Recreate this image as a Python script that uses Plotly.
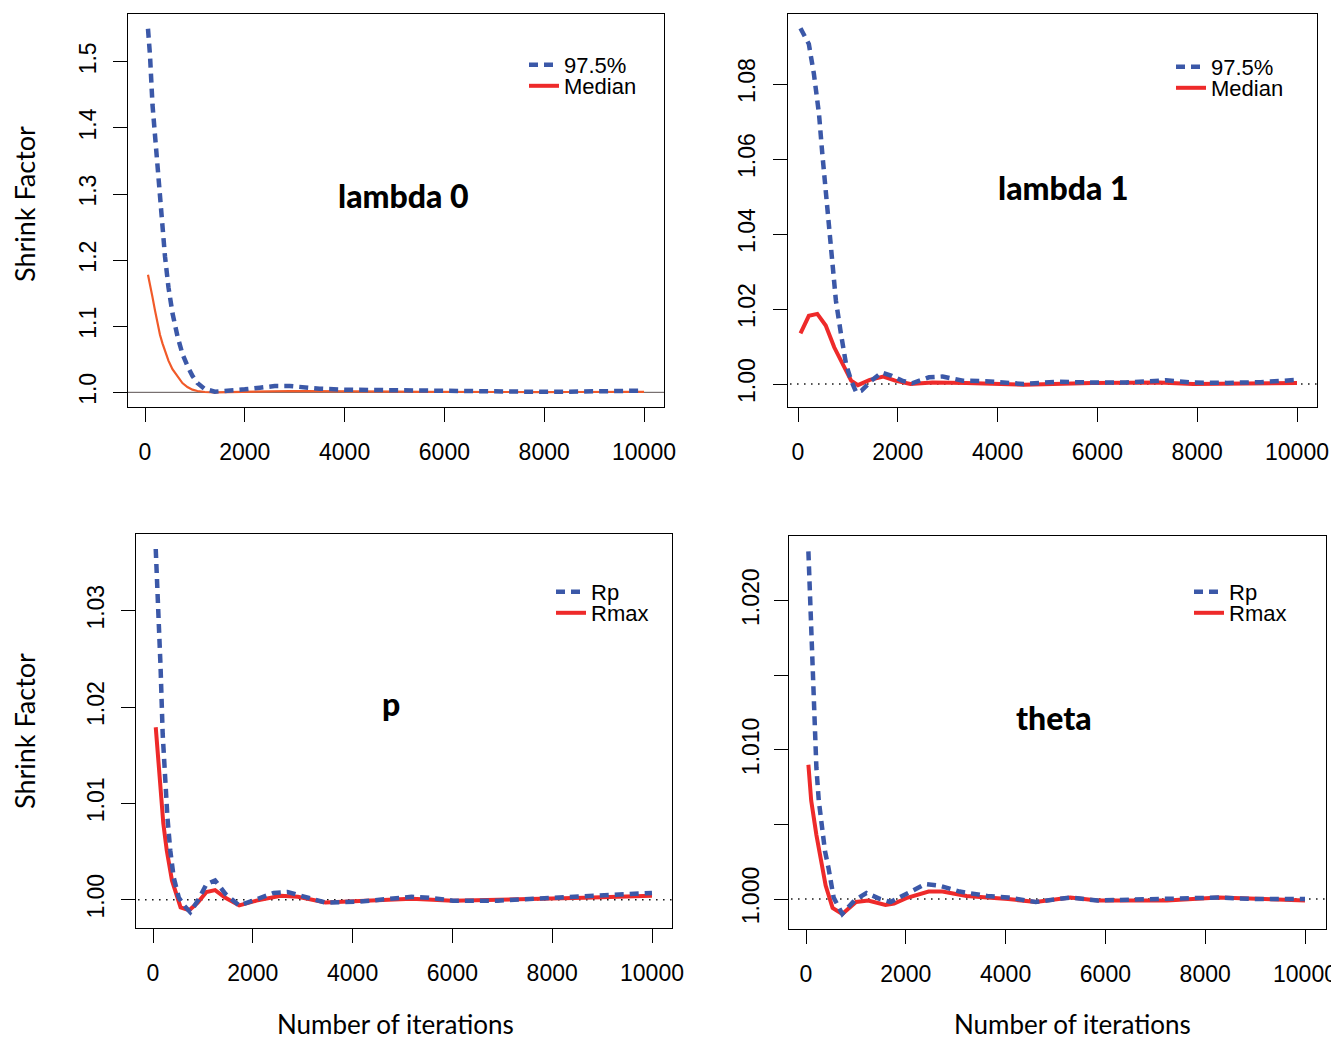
import plotly.graph_objects as go

# ---------------- data ----------------
# Panel 1: lambda 0
L0_x = [60, 100, 150, 200, 250, 300, 350, 400, 470, 550, 650, 750, 850, 950, 1050, 1200, 1400, 1700, 2000,
        2300, 2600, 2900, 3200, 3500, 4000, 4500, 5000, 5500, 6000, 6500, 7000, 7500, 8000, 8500, 9000, 9500, 10000]
L0_q975 = [1.550, 1.510, 1.435, 1.390, 1.340, 1.287, 1.243, 1.206, 1.159, 1.120, 1.085, 1.058, 1.040, 1.025, 1.014,
           1.005, 1.001, 1.002, 1.0045, 1.007, 1.0095, 1.0095, 1.0075, 1.0055, 1.004, 1.0035, 1.0035, 1.0035, 1.0015,
           1.001, 1.0005, 1.0005, 1.0007, 1.001, 1.0015, 1.002, 1.0025]
L0_med = [1.178, 1.165, 1.144, 1.124, 1.103, 1.087, 1.074, 1.062, 1.048, 1.035, 1.024, 1.014, 1.008, 1.004, 1.002,
          1.0005, 1.0, 1.0005, 1.001, 1.0015, 1.002, 1.002, 1.0018, 1.0015, 1.001, 1.001, 1.001, 1.0008, 1.0005,
          1.0003, 1.0003, 1.0003, 1.0004, 1.0005, 1.0006, 1.0007, 1.0008]

# Panel 2: lambda 1
L1_x_q = [50, 217, 319, 421, 488, 556, 624, 692, 760, 862, 963, 1065, 1167, 1269, 1472, 1676, 1879, 2083, 2286,
          2626, 2897, 3304, 3847, 4525, 5204, 5882, 6560, 7374, 7917, 8596, 9274, 10000]
L1_q975 = [1.0949, 1.0907, 1.0827, 1.0720, 1.0613, 1.0516, 1.0418, 1.0311, 1.0222, 1.0133, 1.0053, 1.0009, 0.9978,
           0.9982, 1.0009, 1.0031, 1.0022, 1.0009, 1.0002, 1.0018, 1.0020, 1.0009, 1.0007, 1.0000, 1.0006, 1.0004,
           1.0004, 1.0010, 1.0004, 1.0003, 1.0005, 1.0011]
L1_x_m = [50, 217, 387, 556, 726, 896, 1065, 1201, 1438, 1710, 1947, 2252, 2693, 3372, 4525, 5882, 7239, 7917, 10000]
L1_med = [1.0135, 1.0182, 1.0187, 1.0156, 1.0098, 1.0053, 1.0009, 0.9997, 1.0011, 1.0020, 1.0009, 1.0000, 1.0004,
          1.0003, 0.9998, 1.0003, 1.0004, 1.0000, 1.0003]

# Panel 3: p
P_x_q = [55, 104, 152, 194, 242, 290, 346, 415, 518, 622, 746, 898, 1071, 1244, 1451, 1728, 2004, 2419, 2695, 2972,
         3455, 4146, 4838, 5183, 5529, 6012, 6911, 7947, 8638, 9330, 10000]
P_rp = [1.0364, 1.0310, 1.0241, 1.0172, 1.0120, 1.0085, 1.0051, 1.0023, 1.0002, 0.9994, 0.9987, 0.9999, 1.0016,
        1.0020, 1.0006, 0.9994, 0.9999, 1.0007, 1.0008, 1.0004, 0.9997, 0.9998, 1.0001, 1.0003, 1.0002, 0.9999,
        0.9999, 1.0002, 1.0003, 1.0005, 1.0007]
P_x_m = [55, 138, 207, 276, 380, 553, 726, 898, 1071, 1244, 1451, 1728, 2073, 2557, 2903, 3455, 4492, 5183, 6012,
         7256, 8638, 10000]
P_rmax = [1.0179, 1.0120, 1.0079, 1.0051, 1.0020, 0.9992, 0.9989, 0.9997, 1.0008, 1.0010, 1.0002, 0.9994, 0.9999,
          1.0004, 1.0003, 0.9997, 0.9999, 1.0001, 0.9999, 1.0000, 1.0002, 1.0004]

# Panel 4: theta
T_x_q = [48, 83, 118, 159, 208, 256, 311, 381, 450, 554, 727, 969, 1211, 1488, 1696, 1972, 2388, 2664, 3080, 3633,
         4048, 4602, 5294, 5848, 7232, 8270, 8962, 10000]
T_rp = [1.0233, 1.0200, 1.0155, 1.0122, 1.0088, 1.0066, 1.0048, 1.0032, 1.0021, 1.0001, 0.9990, 0.9999, 1.0004,
        1.0000, 0.9998, 1.0003, 1.0010, 1.0009, 1.0005, 1.0002, 1.0001, 0.9998, 1.0001, 0.9999, 1.0000, 1.0001,
        1.0000, 1.0000]
T_x_m = [48, 104, 208, 311, 394, 533, 727, 1003, 1246, 1592, 1765, 2042, 2457, 2734, 3218, 4048, 4602, 5294, 5848,
         7232, 8270, 10000]
T_rmax = [1.0090, 1.0066, 1.0043, 1.0025, 1.0009, 0.9994, 0.9990, 0.9998, 0.9999, 0.9996, 0.9997, 1.0001, 1.0005,
          1.0005, 1.0002, 1.0000, 0.9998, 1.0001, 0.9999, 0.9999, 1.0001, 0.9999]

panel_titles = ["lambda 0", "lambda 1", "p", "theta"]
x_ticks = [0, 2000, 4000, 6000, 8000, 10000]
y_ticks_1 = [1.0, 1.1, 1.2, 1.3, 1.4, 1.5]
y_ticks_2 = [1.00, 1.02, 1.04, 1.06, 1.08]
y_ticks_3 = [1.00, 1.01, 1.02, 1.03]
y_ticks_4 = [1.000, 1.005, 1.010, 1.015, 1.020]
y_text_4 = ["1.000", "", "1.010", "", "1.020"]

# ---------------- style ----------------
OFF = 8                      # page margin of the html body
W, H = 1339 - OFF, 1043 - 2 * OFF
BLUE = "#3B58A8"
RED = "#EE2A2A"
ORANGE = "#F15A29"
TICKFONT = dict(family="Liberation Sans, Arial, sans-serif", size=23, color="black")
LEGFONT = dict(family="Liberation Sans, Arial, sans-serif", size=22, color="black")
LABFONT = dict(family="Lato, Open Sans, sans-serif", size=27, color="black")
XLABFONT = dict(family="Lato, Open Sans, sans-serif", size=26, color="black")
TITLEFONT = dict(family="Lato, Open Sans, sans-serif", size=32, color="black", weight=900)
DASH = "9px,6px"


def px_x(p):
    return (p - OFF) / W


def px_y(p):
    return 1 - (p - OFF) / H


# box positions in the picture (left, right, top, bottom)
boxes = [(128, 664, 14, 407), (788, 1317, 14, 407), (136, 672, 534, 928), (789, 1326, 536, 929)]
xzero = [145, 798, 153, 806]
xten = [644, 1297, 652, 1305]
yranges = [(0.9778, 1.5723), (0.99387, 1.0987), (0.99706, 1.03796), (0.99799, 1.02433)]
ystand = [8, 9, 8, 6]

fig = go.Figure()

series = [
    (L0_x, L0_q975, L0_x, L0_med, "97.5%", "Median", ORANGE, 2.2),
    (L1_x_q, L1_q975, L1_x_m, L1_med, "97.5%", "Median", RED, 4),
    (P_x_q, P_rp, P_x_m, P_rmax, "Rp", "Rmax", RED, 4),
    (T_x_q, T_rp, T_x_m, T_rmax, "Rp", "Rmax", RED, 4),
]

# legend text start x and row centers
legend_rows = [(564, 65, 86), (1211, 67, 88), (591, 592, 613), (1229, 592, 613)]

layout = {}
for i in range(4):
    n = i + 1
    sfx = "" if n == 1 else str(n)
    xq, yq, xm, ym, nq, nm, mcol, mw = series[i]
    leg_q = "legend" if i == 0 else f"legend{2 * i + 1}"
    leg_m = f"legend{2 * i + 2}"
    fig.add_trace(go.Scatter(
        x=[-1000, 11000], y=[1, 1], mode="lines", xaxis="x" + sfx, yaxis="y" + sfx,
        line=dict(color="#5a5050" if i == 0 else "black", width=1 if i == 0 else 1.4,
                  dash="solid" if i == 0 else "1.4px,5.6px"),
        showlegend=False, hoverinfo="skip"))
    if i == 0:
        fig.add_trace(go.Scatter(
            x=xm, y=ym, mode="lines", name=nm, xaxis="x" + sfx, yaxis="y" + sfx,
            line=dict(color=mcol, width=mw), showlegend=False))
        fig.add_trace(go.Scatter(
            x=[None], y=[None], mode="lines", name=nm, xaxis="x" + sfx, yaxis="y" + sfx,
            line=dict(color=RED, width=4), legend=leg_m, hoverinfo="skip"))
    else:
        fig.add_trace(go.Scatter(
            x=xm, y=ym, mode="lines", name=nm, xaxis="x" + sfx, yaxis="y" + sfx,
            line=dict(color=mcol, width=mw), legend=leg_m))
    fig.add_trace(go.Scatter(
        x=xq, y=yq, mode="lines", name=nq, xaxis="x" + sfx, yaxis="y" + sfx,
        line=dict(color=BLUE, width=4.5, dash=DASH), legend=leg_q))

    l, r, t, b = boxes[i]
    ppk = (xten[i] - xzero[i]) / 10000.0
    xr = [(l - xzero[i]) / ppk, (r - xzero[i]) / ppk]
    layout["xaxis" + sfx] = dict(
        domain=[px_x(l), px_x(r)], range=xr, anchor="y" + sfx, automargin=False,
        tickvals=x_ticks, ticktext=[str(v) for v in x_ticks], ticks="outside", ticklen=14,
        tickcolor="black", tickwidth=1, tickfont=TICKFONT, ticklabelstandoff=10,
        showline=True, mirror=True, linecolor="black", linewidth=1,
        showgrid=False, zeroline=False)
    yt = [y_ticks_1, y_ticks_2, y_ticks_3, y_ticks_4][i]
    ytxt = [["%.1f" % v for v in y_ticks_1], ["%.2f" % v for v in y_ticks_2],
            ["%.2f" % v for v in y_ticks_3], y_text_4][i]
    layout["yaxis" + sfx] = dict(
        domain=[px_y(b), px_y(t)], range=list(yranges[i]), anchor="x" + sfx, automargin=False,
        tickvals=yt, ticktext=ytxt, ticks="outside", ticklen=14, tickangle=-90,
        tickcolor="black", tickwidth=1, tickfont=TICKFONT, ticklabelstandoff=ystand[i],
        showline=True, mirror=True, linecolor="black", linewidth=1,
        showgrid=False, zeroline=False)
    tx0, ry1, ry2 = legend_rows[i]
    for leg, ly in ((leg_q, ry1), (leg_m, ry2)):
        layout[leg] = dict(x=px_x(tx0 - 40), y=px_y(ly), xanchor="left", yanchor="middle",
                           font=LEGFONT, bgcolor="rgba(0,0,0,0)", borderwidth=0)

title_pos = [(403, 196), (1063, 188), (391, 703), (1054, 717)]
annotations = []
for (tx, ty), txt in zip(title_pos, panel_titles):
    annotations.append(dict(text=txt, x=px_x(tx), y=px_y(ty), xref="paper", yref="paper",
                            xanchor="center", yanchor="middle", showarrow=False, font=TITLEFONT))
for ty in (204, 731):
    annotations.append(dict(text="Shrink Factor", x=px_x(24), y=px_y(ty), xref="paper", yref="paper",
                            xanchor="center", yanchor="middle", showarrow=False, textangle=-90, font=LABFONT))
for tx in (395, 1072):
    annotations.append(dict(text="Number of iterations", x=px_x(tx), y=px_y(1024), xref="paper", yref="paper",
                            xanchor="center", yanchor="middle", showarrow=False, font=XLABFONT))

fig.update_layout(
    width=W, height=H, margin=dict(l=0, r=0, t=0, b=0, autoexpand=False),
    paper_bgcolor="white", plot_bgcolor="white",
    annotations=annotations, **layout)

fig.write_html(
    "out.html",
    post_script="document.documentElement.style.overflow='hidden';document.body.style.overflow='hidden';")
